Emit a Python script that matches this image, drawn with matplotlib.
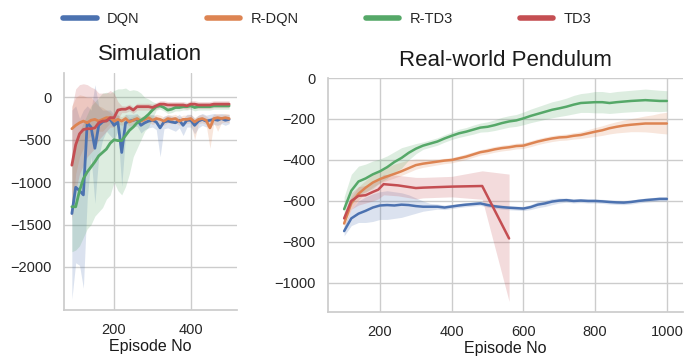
import matplotlib
matplotlib.use("Agg")
import matplotlib.pyplot as plt
import seaborn as sns
from matplotlib.lines import Line2D

# ---------------- Simulation data ----------------
sim_x = [90, 100, 110, 120, 130, 140, 150, 160, 170, 180, 190, 200, 210, 220, 230, 240, 250, 260, 270, 280, 290,
         300, 310, 320, 330, 340, 350, 360, 370, 380, 390, 400, 410, 420, 430, 440, 450, 460, 470, 480, 490, 500]

sim_dqn = [-1370, -1060, -1100, -1150, -300, -350, -600, -330, -290, -270, -260, -330, -290, -650, -300, -280, -270,
           -260, -330, -300, -280, -270, -290, -360, -290, -280, -290, -300, -270, -330, -270, -270, -330, -280, -260,
           -280, -270, -260, -270, -250, -270, -260]
sim_dqn_lo = [-2380, -1950, -1980, -2250, -1200, -700, -1250, -700, -500, -400, -450, -500, -400, -1050, -450, -380,
              -350, -340, -420, -380, -360, -350, -380, -700, -370, -360, -380, -400, -360, -450, -350, -350, -430,
              -360, -330, -350, -340, -320, -330, -310, -330, -310]
sim_dqn_hi = [-150, -100, -250, -150, -100, -150, 150, -100, -150, -150, -150, -200, -200, -300, -200, -200, -200,
              -190, -250, -230, -210, -200, -220, -280, -220, -210, -220, -230, -200, -250, -200, -200, -250, -210,
              -190, -210, -200, -190, -200, -190, -200, -200]

sim_rdqn = [-370, -330, -300, -280, -300, -270, -260, -280, -260, -240, -240, -280, -260, -280, -250, -290, -270, -250,
            -280, -260, -240, -270, -250, -260, -280, -250, -260, -250, -280, -260, -260, -250, -290, -260, -250, -270,
            -360, -250, -240, -250, -240, -250]
sim_rdqn_lo = [-1400, -900, -700, -600, -500, -450, -500, -400, -400, -350, -300, -330, -310, -330, -300, -340, -320,
               -300, -330, -310, -290, -320, -300, -310, -330, -300, -310, -300, -330, -310, -310, -300, -500, -310,
               -300, -320, -600, -300, -400, -300, -290, -300]
sim_rdqn_hi = [-100, 0, 30, 20, 0, 0, -50, -100, -120, -150, -180, -230, -210, -230, -200, -240, -220, -200, -230,
               -210, -190, -220, -200, -210, -230, -200, -210, -200, -230, -210, -210, -200, -240, -210, -200, -220,
               -250, -200, -190, -200, -190, -200]

sim_rtd3 = [-1290, -1290, -1100, -960, -880, -820, -760, -690, -650, -610, -540, -500, -510, -510, -450, -390, -350,
            -300, -270, -240, -200, -150, -110, -100, -120, -150, -140, -120, -120, -110, -110, -100, -120, -110, -110,
            -110, -110, -100, -100, -100, -100, -100]
sim_rtd3_lo = [-1820, -1800, -1750, -1650, -1550, -1500, -1400, -1350, -1300, -1200, -1150, -1000, -1100, -1150,
               -1050, -900, -700, -600, -500, -400, -350, -250, -150, -140, -160, -190, -180, -160, -160, -150, -150,
               -140, -160, -150, -150, -150, -150, -140, -140, -140, -140, -140]
sim_rtd3_hi = [-700, -600, -400, -300, -200, -100, -50, 0, 50, 60, 50, 80, 100, 100, 110, 80, 90, 80, 50, 0, -20, -50,
               -70, -60, -80, -110, -100, -80, -80, -70, -70, -60, -80, -70, -70, -70, -70, -60, -60, -60, -60, -60]

sim_td3 = [-800, -560, -430, -380, -370, -370, -360, -300, -280, -280, -240, -240, -150, -140, -140, -120, -150, -110,
           -110, -110, -110, -120, -100, -80, -80, -90, -90, -90, -90, -90, -100, -80, -80, -90, -90, -90, -90, -80,
           -80, -80, -80, -80]
sim_td3_lo = [-1450, -1100, -900, -800, -700, -650, -600, -500, -450, -400, -350, -350, -250, -180, -180, -160, -190,
              -150, -150, -150, -150, -160, -140, -120, -120, -130, -130, -130, -130, -130, -140, -120, -120, -130,
              -130, -130, -130, -120, -120, -120, -120, -120]
sim_td3_hi = [-120, 100, 150, 160, 150, 120, 100, 50, 50, 50, 80, 50, -50, -100, -100, -80, -110, -70, -70, -70, -70,
              -80, -60, -40, -40, -50, -50, -50, -50, -50, -60, -40, -40, -50, -50, -50, -50, -40, -40, -40, -40, -40]

# ---------------- Real-world pendulum data ----------------
real_x = [100, 120, 140, 160, 180, 200, 220, 240, 260, 280, 300, 320, 340, 360, 380, 400, 420, 440, 460, 480, 500,
          520, 540, 560, 580, 600, 620, 640, 660, 680, 700, 720, 740, 760, 780, 800, 820, 840, 860, 880, 900, 920,
          940, 960, 980, 1000]

real_dqn = [-747, -685, -662, -648, -632, -622, -620, -622, -618, -620, -625, -628, -628, -628, -632, -627, -622, -618,
            -615, -612, -620, -626, -630, -633, -635, -637, -630, -618, -612, -603, -598, -596, -600, -598, -600, -600,
            -602, -605, -607, -608, -605, -600, -596, -593, -590, -590]
real_dqn_lo = [-770, -720, -705, -705, -700, -690, -690, -685, -680, -670, -660, -650, -645, -640, -642, -637, -632,
               -628, -625, -622, -630, -636, -640, -643, -645, -647, -642, -633, -627, -618, -610, -606, -610, -608,
               -610, -610, -612, -615, -617, -618, -615, -610, -606, -603, -600, -600]
real_dqn_hi = [-720, -640, -600, -580, -565, -555, -550, -555, -560, -570, -585, -600, -612, -615, -620, -617, -612,
               -608, -605, -602, -610, -616, -620, -623, -625, -627, -618, -603, -597, -588, -586, -586, -590, -588,
               -590, -590, -592, -595, -597, -598, -595, -590, -586, -583, -580, -580]

real_rdqn = [-710, -610, -565, -535, -510, -493, -480, -468, -455, -440, -425, -418, -413, -408, -403, -400, -392,
             -384, -373, -362, -356, -348, -342, -338, -332, -330, -320, -310, -302, -295, -290, -288, -282, -278,
             -270, -262, -255, -245, -238, -232, -228, -225, -222, -222, -222, -222]
real_rdqn_lo = [-740, -640, -595, -560, -532, -513, -500, -488, -475, -460, -445, -436, -430, -424, -418, -414, -406,
                -398, -387, -376, -370, -362, -356, -352, -346, -344, -335, -325, -317, -310, -305, -303, -298, -295,
                -290, -285, -280, -273, -268, -265, -262, -262, -263, -266, -270, -273]
real_rdqn_hi = [-680, -580, -530, -500, -470, -450, -435, -420, -410, -400, -395, -395, -396, -395, -392, -388, -380,
                -370, -360, -350, -342, -334, -328, -324, -318, -316, -306, -296, -288, -281, -276, -273, -267, -262,
                -252, -242, -233, -222, -213, -205, -198, -192, -185, -180, -172, -167]

real_rtd3 = [-640, -550, -505, -490, -470, -455, -435, -410, -390, -365, -345, -330, -320, -310, -295, -282, -270,
             -262, -252, -242, -238, -230, -220, -212, -207, -197, -185, -175, -165, -155, -148, -140, -130, -122,
             -120, -118, -118, -122, -118, -115, -112, -110, -108, -110, -112, -112]
real_rtd3_lo = [-700, -620, -570, -555, -540, -510, -490, -460, -440, -400, -370, -348, -338, -328, -313, -300, -290,
                -282, -274, -264, -262, -256, -248, -240, -236, -228, -218, -210, -202, -194, -188, -182, -175, -168,
                -168, -170, -170, -173, -170, -167, -165, -163, -162, -163, -164, -162]
real_rtd3_hi = [-580, -470, -430, -420, -405, -395, -380, -360, -340, -330, -320, -312, -302, -292, -277, -264, -250,
                -242, -230, -220, -214, -204, -192, -184, -178, -166, -152, -140, -128, -116, -108, -98, -85, -76, -72,
                -66, -66, -71, -66, -63, -60, -57, -54, -57, -60, -62]

real_td3_x = [100, 120, 140, 160, 180, 195, 210, 250, 300, 320, 400, 485, 560]
real_td3 = [-685, -600, -575, -572, -556, -545, -518, -524, -537, -535, -530, -527, -783]
real_td3_lo = [-705, -640, -620, -610, -600, -590, -570, -575, -590, -585, -580, -592, -1090]
real_td3_hi = [-665, -560, -530, -525, -505, -495, -470, -475, -485, -485, -480, -453, -469]

labels = ["DQN", "R-DQN", "R-TD3", "TD3"]
colors = ["#4C72B0", "#DD8452", "#55A868", "#C44E52"]

sns.set_theme(style="whitegrid")
plt.rcParams["font.family"] = ["Liberation Sans", "DejaVu Sans"]
plt.rcParams["axes.unicode_minus"] = True

W, H = 688, 358
fig = plt.figure(figsize=(W / 100, H / 100), dpi=100)

def px_axes(l, t, r, b):
    return fig.add_axes([l / W, 1 - b / H, (r - l) / W, (b - t) / H])

ax1 = px_axes(64, 73, 237, 310)
ax2 = px_axes(328, 78, 683, 312)

sim = [(sim_x, sim_dqn, sim_dqn_lo, sim_dqn_hi), (sim_x, sim_rdqn, sim_rdqn_lo, sim_rdqn_hi),
       (sim_x, sim_rtd3, sim_rtd3_lo, sim_rtd3_hi), (sim_x, sim_td3, sim_td3_lo, sim_td3_hi)]
real = [(real_x, real_dqn, real_dqn_lo, real_dqn_hi), (real_x, real_rdqn, real_rdqn_lo, real_rdqn_hi),
        (real_x, real_rtd3, real_rtd3_lo, real_rtd3_hi), (real_td3_x, real_td3, real_td3_lo, real_td3_hi)]

for (x, m, lo, hi), c in zip(sim, colors):
    ax1.fill_between(x, lo, hi, color=c, alpha=0.2, linewidth=0)
    ax1.plot(x, m, color=c, linewidth=2.0)
for (x, m, lo, hi), c in zip(real, colors):
    ax2.fill_between(x, lo, hi, color=c, alpha=0.2, linewidth=0)
    ax2.plot(x, m, color=c, linewidth=1.8)

ax1.set_yticks([0, -500, -1000, -1500, -2000])
ax1.set_xticks([200, 400])
ax2.set_yticks([0, -200, -400, -600, -800, -1000])
ax2.set_xticks([200, 400, 600, 800, 1000])

for ax, title in [(ax1, "Simulation"), (ax2, "Real-world Pendulum")]:
    ax.set_title(title, fontsize=16, color="0.1", pad=9)
    ax.set_xlabel("Episode No", fontsize=11.5, color="0.1", labelpad=2)
    ax.tick_params(axis="both", labelsize=10.5, colors="0.15", pad=3)
    for s in ["top", "right"]:
        ax.spines[s].set_visible(False)
    for s in ["left", "bottom"]:
        ax.spines[s].set_color("0.8")

handles = [Line2D([0], [0], color=c, linewidth=4, solid_capstyle="round") for c in colors]
fig.legend(handles, labels, loc="center left", bbox_to_anchor=(50 / W, 1 - 19 / H), ncol=4, frameon=False,
           fontsize=10.5, handlelength=2.3, handletextpad=0.7, columnspacing=4.6)

fig.savefig("out.png", dpi=100)
